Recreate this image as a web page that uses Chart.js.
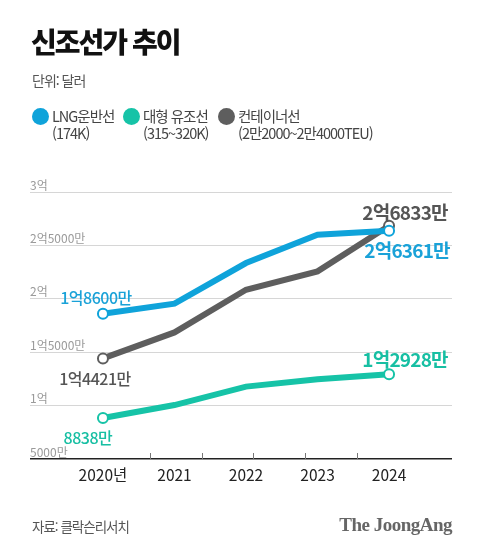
<!DOCTYPE html>
<html lang="ko">
<head>
<meta charset="utf-8">
<script src="https://cdn.jsdelivr.net/npm/chart.js"></script>
<style>
  body { margin: 0; background: #fff; font-family: "Noto Sans CJK KR", "Noto Sans", sans-serif; }
  #wrap { position: relative; width: 480px; height: 553px; overflow: hidden; }
  #chart { position: absolute; left: 0; top: 0; }
  .txt { position: absolute; white-space: nowrap; }
  #title { left: 31px; top: 21px; font-size: 28px; font-weight: 900; letter-spacing: -2px; color: #111; }
  #unit { left: 32px; top: 70px; font-size: 14px; letter-spacing: -1px; color: #555; }
  .leg { position: absolute; top: 107px; font-size: 14.5px; line-height: 17px; letter-spacing: -1px; color: #444; }
  .leg i { position: absolute; left: -20px; top: 1px; width: 17px; height: 17px; border-radius: 50%; }
  #source { left: 32px; top: 516px; font-size: 13.5px; letter-spacing: -1px; color: #555; }
  #brand { right: 28px; top: 514px; font-family: "Liberation Serif", serif; font-weight: bold; font-size: 19px; letter-spacing: -0.5px; color: #666; }
</style>
</head>
<body>
<div id="wrap">
  <canvas id="chart" width="480" height="553"></canvas>
  <div class="txt" id="title">신조선가 추이</div>
  <div class="txt" id="unit">단위: 달러</div>
  <div id="legend"></div>
  <div class="txt" id="source">자료: 클락슨리서치</div>
  <div class="txt" id="brand">The JoongAng</div>
</div>
<script>
// values in 만 달러
const years = [2020, 2021, 2022, 2023, 2024]
const yearLabels = ['2020년', '2021', '2022', '2023', '2024']
const lngCarrier = [18600, 19550, 23350, 26000, 26361]
const crudeTanker = [8838, 10050, 11780, 12470, 12928]
const container = [14421, 16850, 20850, 22570, 26833]
const yTicks = [5000, 10000, 15000, 20000, 25000, 30000]
const yTickLabels = ['5000만', '1억', '1억5000만', '2억', '2억5000만', '3억']

const seriesNames = [['LNG운반선', '(174K)'], ['대형 유조선', '(315~320K)'], ['컨테이너선', '(2만2000~2만4000TEU)']]
const colors = ['#0fa3da', '#16c3a7', '#5e5e5e']
const labelColors = ['#1aa2d8', '#17bfa3', '#555555']

// legend
const legendX = [52, 143, 238]
document.getElementById('legend').innerHTML = seriesNames.map((n, i) =>
    `<div class="leg" style="left:${legendX[i]}px"><i style="background:${colors[i]}"></i>${n[0]}<br>${n[1]}</div>`
).join('')

const fmt = v => {
    const eok = Math.floor(v / 10000), man = v % 10000
    return (eok ? eok + '억' : '') + (man ? man + '만' : '')
}

// label offsets for first / last point of each series
const labelPos = [
    [{ dx: -7, dy: -16 }, { dx: 18, dy: 20 }],
    [{ dx: -15, dy: 20 }, { dx: 16, dy: -15 }],
    [{ dx: -8, dy: 21 }, { dx: 16, dy: -13 }]
]

const endLabels = {
    id: 'endLabels',
    afterDatasetsDraw(chart) {
        const ctx = chart.ctx
        chart.data.datasets.forEach((ds, di) => {
            const pts = chart.getDatasetMeta(di).data
            ;[0, pts.length - 1].forEach((idx, k) => {
                const p = pts[idx], o = labelPos[di][k]
                ctx.save()
                ctx.font = k === 0 ? '500 16px "Noto Sans CJK KR"' : 'bold 19px "Noto Sans CJK KR"'
                ctx.letterSpacing = k === 0 ? '-0.5px' : '-0.8px'
                ctx.fillStyle = labelColors[di]
                ctx.textAlign = 'center'
                ctx.textBaseline = 'middle'
                ctx.fillText(fmt(ds.data[idx].y), p.x + o.dx, p.y + o.dy)
                ctx.restore()
            })
        })
    }
}

// small decorative ticks on the base line
const baseTicks = {
    id: 'baseTicks',
    afterDraw(chart) {
        const { ctx, chartArea: a } = chart
        ctx.save()
        ctx.strokeStyle = '#777'
        ctx.lineWidth = 1
        ;[0.284, 0.407, 0.529, 0.652, 0.775].forEach(f => {
            const x = Math.round(a.left + f * (a.right - a.left)) + 0.5
            ctx.beginPath()
            ctx.moveTo(x, a.bottom - 6)
            ctx.lineTo(x, a.bottom)
            ctx.stroke()
        })
        ctx.restore()
    }
}

const mk = (arr, i) => ({
    data: years.map((y, j) => ({ x: y, y: arr[j] })),
    borderColor: colors[i],
    borderWidth: 6,
    pointRadius: c => (c.dataIndex === 0 || c.dataIndex === arr.length - 1) ? 5 : 0,
    pointBorderWidth: 2,
    pointBackgroundColor: '#fff',
    pointBorderColor: colors[i],
    tension: 0
})

new Chart(document.getElementById('chart'), {
    type: 'line',
    data: { datasets: [mk(lngCarrier, 0), mk(crudeTanker, 1), mk(container, 2)] },
    options: {
        responsive: false,
        animation: false,
        devicePixelRatio: 1,
        layout: { padding: { top: 192, left: 30, right: 28, bottom: 0 } },
        plugins: { legend: { display: false }, tooltip: { enabled: false } },
        scales: {
            x: {
                type: 'linear',
                min: 2018.98,
                max: 2024.88,
                afterBuildTicks: s => { s.ticks = years.map(v => ({ value: v })) },
                afterFit: s => { s.height = 94 },
                grid: { display: false },
                border: { display: false },
                ticks: {
                    callback: v => yearLabels[years.indexOf(v)],
                    color: '#222',
                    font: { family: 'Noto Sans CJK KR', size: 15.5 },
                    padding: -1,
                    maxRotation: 0
                }
            },
            y: {
                min: 5000,
                max: 30000,
                afterBuildTicks: s => { s.ticks = yTicks.map(v => ({ value: v })) },
                afterFit: s => { s.width = 0 },
                border: { display: false },
                grid: {
                    drawTicks: false,
                    color: c => c.tick.value === 5000 ? '#222' : '#d6d6d6',
                    lineWidth: c => c.tick.value === 5000 ? 1.5 : 1
                },
                ticks: {
                    mirror: true,
                    padding: 0,
                    labelOffset: -7,
                    color: '#9a9a9a',
                    font: { family: 'Noto Sans CJK KR', size: 12 },
                    callback: v => yTickLabels[yTicks.indexOf(v)]
                }
            }
        }
    },
    plugins: [endLabels, baseTicks]
})
</script>
</body>
</html>
